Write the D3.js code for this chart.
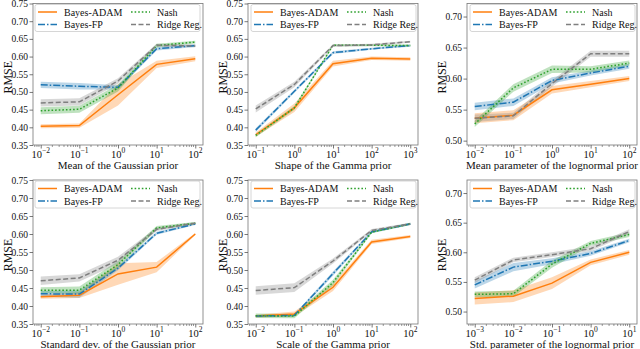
<!DOCTYPE html>
<html>
<head>
<meta charset="utf-8">
<script src="https://cdn.jsdelivr.net/npm/d3@7"></script>
<style>
  body { margin: 0; background: #fff; }
  text { font-family: "Liberation Serif", "DejaVu Serif", serif; fill: #111; }
</style>
</head>
<body>
<svg id="chart" width="640" height="349"></svg>
<script>
const seriesNames = ["Bayes-ADAM", "Bayes-FP", "Nash", "Ridge Reg."];

// x exponents for each panel
const expGaussMean = [-2, -1, 0, 1, 2];
const expGammaShape = [-1, 0, 1, 2, 3];
const expLognMean = [-2, -1, 0, 1, 2];
const expGaussStd = [-2, -1, 0, 1, 2];
const expGammaScale = [-2, -1, 0, 1, 2];
const expLognStd = [-3, -2, -1, 0, 1];

// RMSE, rows: ADAM, FP, Nash, Ridge
const rmseGaussMean = [
  [0.403, 0.405, 0.492, 0.578, 0.594],
  [0.520, 0.516, 0.513, 0.622, 0.631],
  [0.447, 0.451, 0.511, 0.631, 0.641],
  [0.469, 0.472, 0.531, 0.632, 0.630],
];
const errGaussMean = [
  [0.006, 0.006, 0.03, 0.01, 0.007],
  [0.009, 0.009, 0.006, 0.005, 0.004],
  [0.01, 0.01, 0.01, 0.005, 0.004],
  [0.01, 0.01, 0.008, 0.004, 0.004],
];

const rmseGammaShape = [
  [0.379, 0.455, 0.580, 0.595, 0.593],
  [0.392, 0.502, 0.611, 0.622, 0.631],
  [0.377, 0.455, 0.632, 0.632, 0.631],
  [0.452, 0.521, 0.631, 0.633, 0.642],
];
const errGammaShape = [
  [0.006, 0.012, 0.008, 0.005, 0.005],
  [0.005, 0.004, 0.004, 0.003, 0.003],
  [0.005, 0.005, 0.003, 0.003, 0.003],
  [0.01, 0.008, 0.003, 0.003, 0.003],
];

const rmseLognMean = [
  [0.536, 0.541, 0.582, 0.591, 0.600],
  [0.555, 0.562, 0.597, 0.609, 0.620],
  [0.527, 0.585, 0.615, 0.615, 0.625],
  [0.536, 0.540, 0.592, 0.640, 0.640],
];
const errLognMean = [
  [0.008, 0.008, 0.006, 0.005, 0.004],
  [0.006, 0.006, 0.005, 0.004, 0.004],
  [0.005, 0.006, 0.006, 0.005, 0.004],
  [0.006, 0.005, 0.005, 0.005, 0.005],
];

const rmseGaussStd = [
  [0.426, 0.430, 0.489, 0.508, 0.600],
  [0.434, 0.433, 0.505, 0.602, 0.628],
  [0.444, 0.444, 0.515, 0.617, 0.630],
  [0.470, 0.478, 0.527, 0.613, 0.630],
];
const errGaussStd = [
  [0.006, 0.008, 0.03, 0.014, 0.003],
  [0.008, 0.01, 0.006, 0.004, 0.003],
  [0.008, 0.01, 0.01, 0.005, 0.003],
  [0.012, 0.01, 0.01, 0.005, 0.003],
];

const rmseGammaScale = [
  [0.372, 0.378, 0.452, 0.578, 0.593],
  [0.372, 0.374, 0.490, 0.606, 0.628],
  [0.373, 0.372, 0.465, 0.605, 0.628],
  [0.443, 0.451, 0.525, 0.610, 0.628],
];
const errGammaScale = [
  [0.004, 0.007, 0.01, 0.006, 0.004],
  [0.003, 0.003, 0.006, 0.003, 0.003],
  [0.006, 0.006, 0.008, 0.003, 0.003],
  [0.012, 0.012, 0.007, 0.004, 0.003],
];

const rmseLognStd = [
  [0.522, 0.526, 0.548, 0.583, 0.600],
  [0.545, 0.575, 0.585, 0.598, 0.620],
  [0.529, 0.530, 0.580, 0.615, 0.630],
  [0.553, 0.587, 0.596, 0.606, 0.635],
];
const errLognStd = [
  [0.01, 0.01, 0.01, 0.005, 0.004],
  [0.006, 0.007, 0.005, 0.004, 0.003],
  [0.005, 0.005, 0.006, 0.004, 0.004],
  [0.005, 0.004, 0.004, 0.004, 0.004],
];

const xLabels = [
  "Mean of the Gaussian prior", "Shape of the Gamma prior", "Mean parameter of the lognormal prior",
  "Standard dev. of the Gaussian prior", "Scale of the Gamma prior", "Std. parameter of the lognormal prior",
];
const yTicksWide = [0.35, 0.40, 0.45, 0.50, 0.55, 0.60, 0.65, 0.70, 0.75];
const yTicksNarrow = [0.50, 0.55, 0.60, 0.65, 0.70];

// styles
const colors = ["#ff7f0e", "#1f77b4", "#2ca02c", "#7f7f7f"];
const dashes = [null, "7,2,1.5,2", "1.6,2", "5,2.5"];

const cols = [{ l: 33, r: 203 }, { l: 248, r: 418 }, { l: 467, r: 637 }];
const rows = [{ t: 3.5, b: 145 }, { t: 180, b: 324 }];

const panels = [
  { exps: expGaussMean, rmse: rmseGaussMean, err: errGaussMean, yDom: [0.35, 0.75], yTicks: yTicksWide, legendLeft: true },
  { exps: expGammaShape, rmse: rmseGammaShape, err: errGammaShape, yDom: [0.35, 0.75], yTicks: yTicksWide },
  { exps: expLognMean, rmse: rmseLognMean, err: errLognMean, yDom: [0.493, 0.721], yTicks: yTicksNarrow },
  { exps: expGaussStd, rmse: rmseGaussStd, err: errGaussStd, yDom: [0.35, 0.75], yTicks: yTicksWide, legendLeft: true },
  { exps: expGammaScale, rmse: rmseGammaScale, err: errGammaScale, yDom: [0.35, 0.75], yTicks: yTicksWide },
  { exps: expLognStd, rmse: rmseLognStd, err: errLognStd, yDom: [0.479, 0.722], yTicks: yTicksNarrow },
];

const svg = d3.select("#chart");

panels.forEach((p, i) => {
  const c = cols[i % 3];
  const r = rows[Math.floor(i / 3)];
  const e0 = d3.min(p.exps), e1 = d3.max(p.exps);

  const x = d3.scaleLog().domain([Math.pow(10, e0 - 0.2), Math.pow(10, e1 + 0.2)]).range([c.l, c.r]);
  const y = d3.scaleLinear().domain(p.yDom).range([r.b, r.t]);

  const g = svg.append("g");

  // clip for data
  const clipId = `clip${i}`;
  g.append("clipPath").attr("id", clipId)
    .append("rect").attr("x", c.l).attr("y", r.t).attr("width", c.r - c.l).attr("height", r.b - r.t);
  const plot = g.append("g").attr("clip-path", `url(#${clipId})`);

  const area = d3.area()
    .x((d) => x(Math.pow(10, d.e)))
    .y0((d) => y(d.v - d.s))
    .y1((d) => y(d.v + d.s));
  const line = d3.line()
    .x((d) => x(Math.pow(10, d.e)))
    .y((d) => y(d.v));

  p.rmse.forEach((vals, k) => {
    const data = vals.map((v, j) => ({ e: p.exps[j], v: v, s: p.err[k][j] }));
    plot.append("path").datum(data)
      .attr("d", area)
      .attr("fill", colors[k])
      .attr("fill-opacity", 0.3);
  });
  p.rmse.forEach((vals, k) => {
    const data = vals.map((v, j) => ({ e: p.exps[j], v: v }));
    plot.append("path").datum(data)
      .attr("d", line)
      .attr("fill", "none")
      .attr("stroke", colors[k])
      .attr("stroke-width", 1.5)
      .attr("stroke-dasharray", dashes[k]);
  });

  // frame
  g.append("rect")
    .attr("x", c.l).attr("y", r.t)
    .attr("width", c.r - c.l).attr("height", r.b - r.t)
    .attr("fill", "none").attr("stroke", "#777").attr("stroke-width", 0.8);

  // y axis
  const yAxis = g.append("g")
    .attr("transform", `translate(${c.l},0)`)
    .call(d3.axisLeft(y).tickValues(p.yTicks).tickFormat(d3.format(".2f")).tickSize(3.5).tickPadding(1.5));
  yAxis.select(".domain").remove();
  yAxis.selectAll("line").attr("stroke", "#555").attr("stroke-width", 0.8);
  yAxis.selectAll("text").attr("font-size", 9.5).attr("font-family", "Liberation Serif").attr("fill", "#111");

  // x axis major ticks
  const majors = p.exps.map((e) => Math.pow(10, e));
  const xAxis = g.append("g")
    .attr("transform", `translate(0,${r.b})`)
    .call(d3.axisBottom(x).tickValues(majors).tickFormat("").tickSize(3.5));
  xAxis.select(".domain").remove();
  xAxis.selectAll("line").attr("stroke", "#555").attr("stroke-width", 0.8);

  // minor ticks
  const minors = [];
  for (let d = e0 - 1; d <= e1; d++) {
    for (let m = 2; m <= 9; m++) {
      const v = m * Math.pow(10, d);
      if (v > x.domain()[0] && v < x.domain()[1]) minors.push(v);
    }
  }
  g.append("g").selectAll("line").data(minors).join("line")
    .attr("x1", (d) => x(d)).attr("x2", (d) => x(d))
    .attr("y1", r.b).attr("y2", r.b + 2)
    .attr("stroke", "#555").attr("stroke-width", 0.6);

  // x tick labels 10^e
  const lab = g.append("g").selectAll("text").data(p.exps).join("text")
    .attr("x", (e) => x(Math.pow(10, e)))
    .attr("y", r.b + 12.5)
    .attr("text-anchor", "middle")
    .attr("font-size", 10.5);
  lab.append("tspan").text("10");
  lab.append("tspan")
    .attr("dy", -4.5)
    .attr("font-size", 7.5)
    .text((e) => String(e).replace("-", "\u2212"));

  // axis titles
  g.append("text")
    .attr("x", (c.l + c.r) / 2)
    .attr("y", r.b + 23.5)
    .attr("text-anchor", "middle")
    .attr("font-size", 11)
    .text(xLabels[i]);
  g.append("text")
    .attr("transform", `translate(${c.l - 21.5},${(r.t + r.b) / 2 + 3}) rotate(-90)`)
    .attr("text-anchor", "middle")
    .attr("font-size", 12)
    .text("RMSE");

  // legend
  const lw = 165, lh = 27;
  const lx = p.legendLeft ? c.l + 2 : c.r - 2 - lw;
  const ly = r.t + 1;
  const leg = g.append("g").attr("transform", `translate(${lx},${ly})`);
  leg.append("rect")
    .attr("width", lw).attr("height", lh)
    .attr("rx", 2)
    .attr("fill", "#fff").attr("fill-opacity", 0.8)
    .attr("stroke", "#ccc").attr("stroke-width", 0.8);
  seriesNames.forEach((name, k) => {
    const ox = k < 2 ? 3 : 96;
    const oy = k % 2 === 0 ? 7.5 : 20;
    leg.append("line")
      .attr("x1", ox).attr("x2", ox + 19)
      .attr("y1", oy).attr("y2", oy)
      .attr("stroke", colors[k]).attr("stroke-width", 1.5)
      .attr("stroke-dasharray", dashes[k]);
    leg.append("text")
      .attr("x", ox + 26).attr("y", oy + 3.5)
      .attr("font-size", 10)
      .text(name);
  });
});
</script>
</body>
</html>
